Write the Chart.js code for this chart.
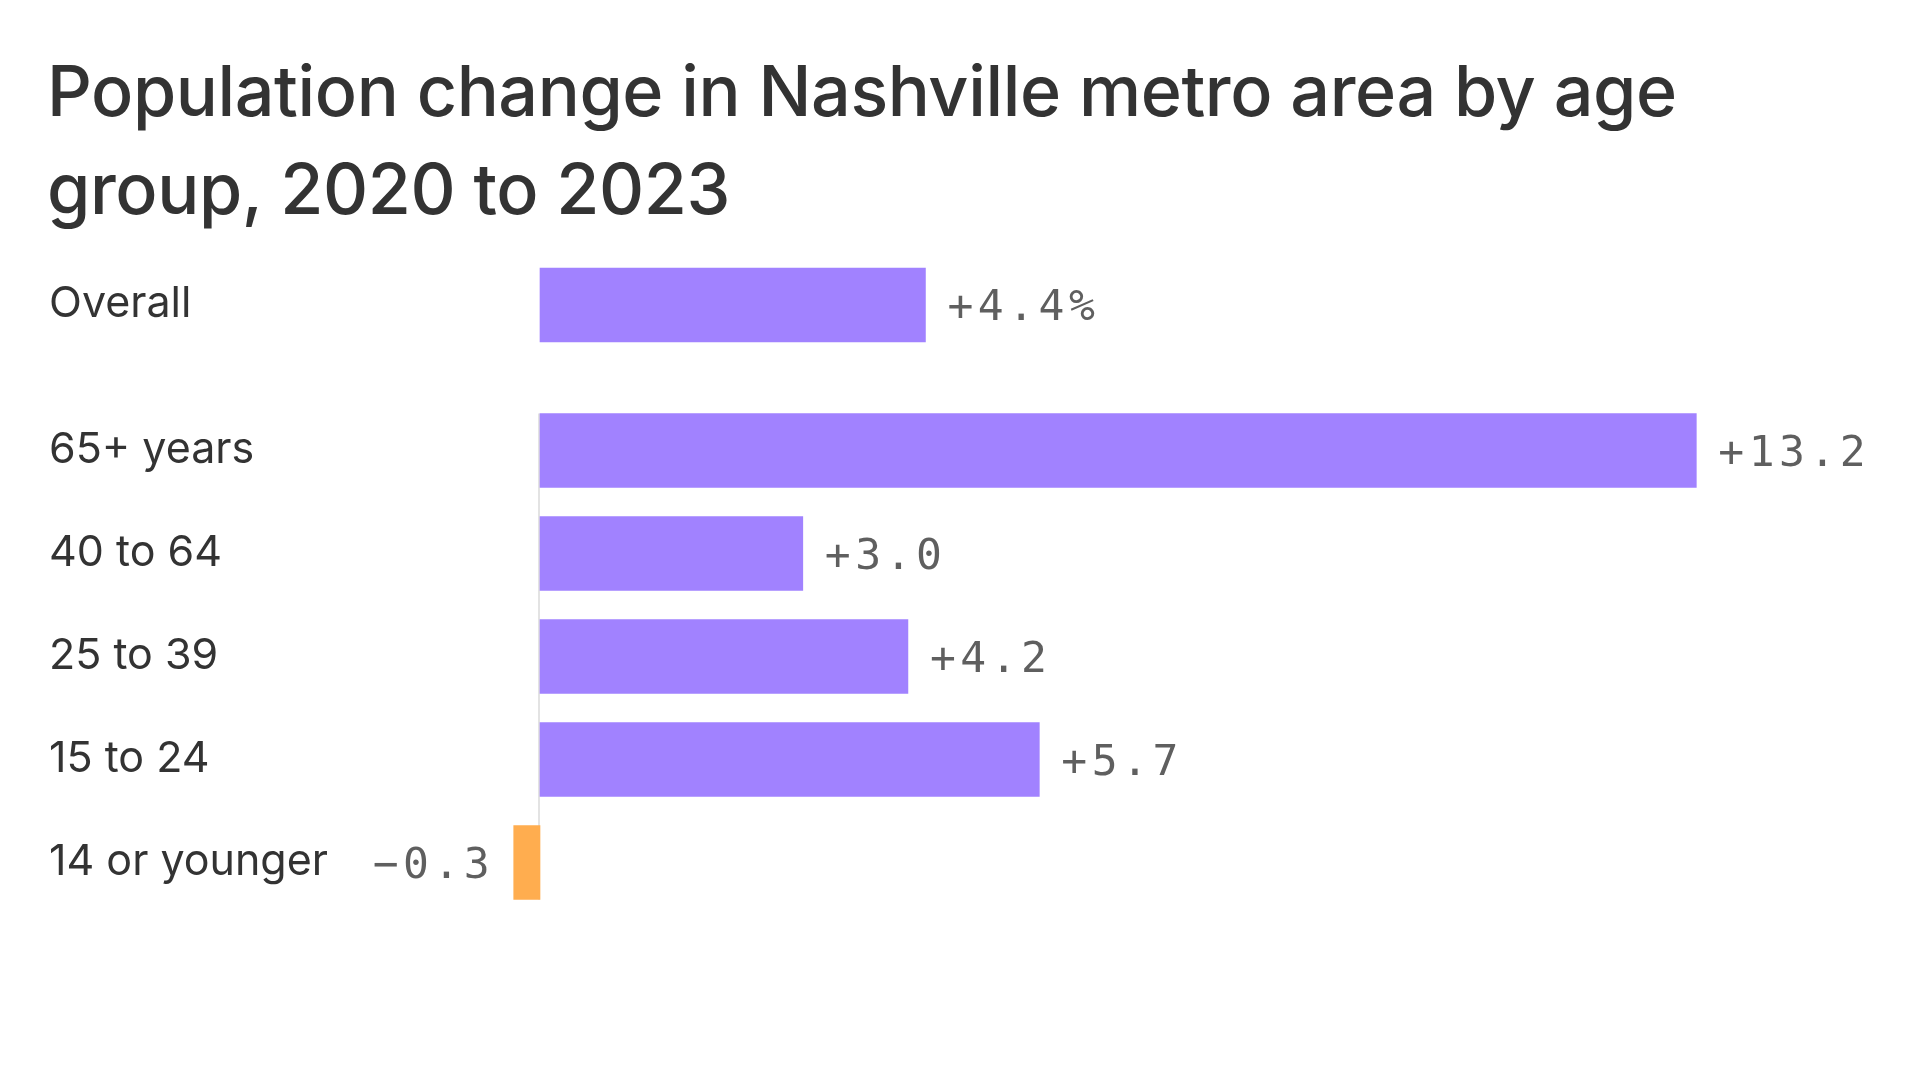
<!DOCTYPE html>
<html>
<head>
<meta charset="utf-8">
<script src="https://cdn.jsdelivr.net/npm/chart.js@4.4.1/dist/chart.umd.min.js"></script>
<style>
  html, body { margin: 0; padding: 0; background: #ffffff; }
  body { width: 1920px; height: 1080px; position: relative; overflow: hidden; }
  #title {
    position: absolute; left: 47px; top: 42px; width: 1860px;
    font-family: Inter, "Noto Sans", sans-serif; font-size: 70px; line-height: 98px;
    color: #333333; font-weight: 500; letter-spacing: -0.4px; white-space: pre-line;
  }
  .box { position: absolute; left: 0; width: 1920px; }
  #box1 { top: 253px; height: 104px; }
  #box2 { top: 399px; height: 515px; }
</style>
</head>
<body>
<div id="title"></div>
<div class="box" id="box1"><canvas id="c1"></canvas></div>
<div class="box" id="box2"><canvas id="c2"></canvas></div>
<script>
// ---- data ----
const titleLines = ["Population change in Nashville metro area by age", "group, 2020 to 2023"];
const overallLabels = ["Overall"];
const overallValues = [4.4];
const groupLabels = ["65+ years", "40 to 64", "25 to 39", "15 to 24", "14 or younger"];
const groupValues = [13.2, 3.0, 4.2, 5.7, -0.3];

document.getElementById('title').textContent = titleLines.join('\n');

const PURPLE = '#a182ff';
const ORANGE = '#ffad4f';
const ZERO_X = 540;
const PX_PER_UNIT = 87.6;
const X_MIN = -ZERO_X / PX_PER_UNIT;
const X_MAX = (1920 - ZERO_X) / PX_PER_UNIT;

function fmt(v, withPct) {
  const s = (v < 0 ? '\u2212' : '+') + Math.abs(v).toFixed(1);
  return withPct ? s + '%' : s;
}

function labelPlugin(pctFirst, drawZero) {
  return {
    id: 'customLabels',
    beforeDatasetsDraw(chart) {
      if (!drawZero) return;
      const ctx = chart.ctx;
      const x = chart.scales.x.getPixelForValue(0);
      const meta = chart.getDatasetMeta(0);
      const first = meta.data[0], last = meta.data[meta.data.length - 1];
      ctx.save();
      ctx.strokeStyle = '#e3e3e3';
      ctx.lineWidth = 2;
      ctx.beginPath();
      ctx.moveTo(x - 1, first.y - first.height / 2);
      ctx.lineTo(x - 1, last.y + last.height / 2);
      ctx.stroke();
      ctx.restore();
    },
    afterDatasetsDraw(chart) {
      const ctx = chart.ctx;
      const meta = chart.getDatasetMeta(0);
      const labels = chart.data.labels;
      const vals = chart.data.datasets[0].data;
      ctx.save();
      meta.data.forEach((bar, i) => {
        // category label
        ctx.font = '400 43px Inter, "Noto Sans", sans-serif';
        ctx.fillStyle = '#333333';
        ctx.textAlign = 'left';
        ctx.textBaseline = 'alphabetic';
        ctx.letterSpacing = '0px';
        ctx.fillText(labels[i], 49, bar.y + 12);
        // value label
        const v = vals[i];
        const txt = fmt(v, pctFirst && i === 0);
        ctx.font = '400 43px "DejaVu Sans Mono", monospace';
        ctx.fillStyle = '#5f5f5f';
        ctx.letterSpacing = '4.5px';
        ctx.textAlign = 'left';
        const w = ctx.measureText(txt).width - 4.5;
        let x;
        if (v >= 0) x = bar.x + 22;
        else x = bar.x - 24 - w;
        ctx.fillText(txt, x, bar.y + 15);
      });
      ctx.restore();
    }
  };
}

function makeChart(id, labels, values, pctFirst, drawZero) {
  return new Chart(document.getElementById(id), {
    type: 'bar',
    data: {
      labels: labels,
      datasets: [{
        data: values,
        backgroundColor: values.map(v => v < 0 ? ORANGE : PURPLE),
        borderWidth: 0,
        barThickness: 74
      }]
    },
    options: {
      indexAxis: 'y',
      responsive: true,
      maintainAspectRatio: false,
      animation: false,
      layout: { padding: 0 },
      plugins: { legend: { display: false }, tooltip: { enabled: false } },
      scales: {
        x: { type: 'linear', display: false, min: X_MIN, max: X_MAX },
        y: { display: false, offset: true }
      }
    },
    plugins: [labelPlugin(pctFirst, drawZero)]
  });
}

makeChart('c1', overallLabels, overallValues, true, false);
makeChart('c2', groupLabels, groupValues, false, true);
</script>
</body>
</html>
